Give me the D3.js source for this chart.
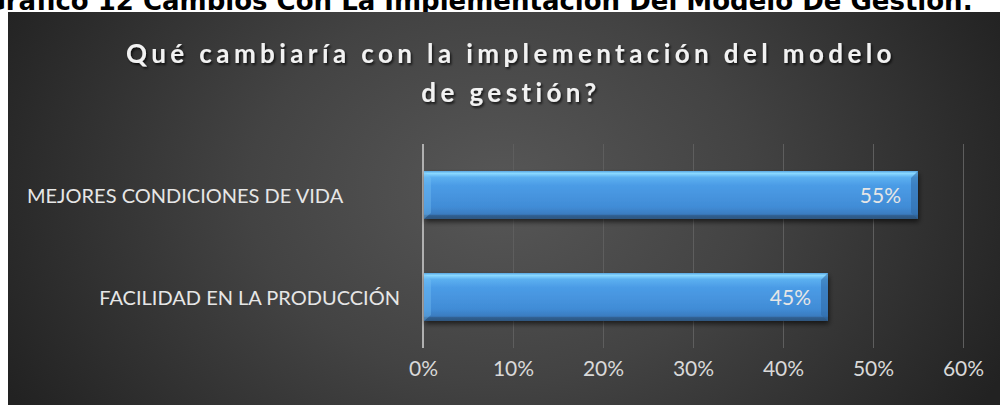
<!DOCTYPE html>
<html>
<head>
<meta charset="utf-8">
<script src="https://cdn.jsdelivr.net/npm/d3@7"></script>
<style>
  body { margin: 0; background: #fff; }
  svg { display: block; }
</style>
</head>
<body>
<svg width="1000" height="405"></svg>
<script>
var categories = ["MEJORES CONDICIONES DE VIDA", "FACILIDAD EN LA PRODUCCIÓN"];
var values = [0.55, 0.45];
var tickValues = [0, 0.1, 0.2, 0.3, 0.4, 0.5, 0.6];
var titleLines = ["Qué cambiaría con la implementación del modelo", "de gestión?"];
var caption = "Gráfico 12 Cambios Con La Implementación Del Modelo De Gestión:";

var svg = d3.select("svg"),
  width = +svg.attr("width"),
  height = +svg.attr("height");

var defs = svg.append("defs");

var bg = defs.append("radialGradient")
  .attr("id", "bg")
  .attr("gradientUnits", "userSpaceOnUse")
  .attr("cx", 500).attr("cy", 190).attr("r", 560)
  .attr("gradientTransform", "translate(500,190) scale(1,0.75) translate(-500,-190)");
bg.append("stop").attr("offset", "0%").attr("stop-color", "#575757");
bg.append("stop").attr("offset", "45%").attr("stop-color", "#434343");
bg.append("stop").attr("offset", "100%").attr("stop-color", "#222222");

var barGrad = defs.append("linearGradient")
  .attr("id", "bar")
  .attr("x1", 0).attr("y1", 0).attr("x2", 0).attr("y2", 1);
[["0%", "#5aa9e6"], ["5%", "#8ad8ff"], ["13%", "#5cb0f0"], ["30%", "#4b9ce6"],
 ["75%", "#418cd6"], ["90%", "#3a7cc0"], ["93%", "#305f90"], ["100%", "#2d5680"]]
  .forEach(function (s) {
    barGrad.append("stop").attr("offset", s[0]).attr("stop-color", s[1]);
  });

var shadow = defs.append("filter").attr("id", "shadow")
  .attr("x", "-5%").attr("y", "-20%").attr("width", "110%").attr("height", "160%");
shadow.append("feDropShadow")
  .attr("dx", 1).attr("dy", 3).attr("stdDeviation", 2.5)
  .attr("flood-color", "#000").attr("flood-opacity", 0.6);

var titleShadow = defs.append("filter").attr("id", "tshadow");
titleShadow.append("feDropShadow")
  .attr("dx", 1.5).attr("dy", 2).attr("stdDeviation", 1.2)
  .attr("flood-color", "#000").attr("flood-opacity", 0.7);

// caption above the chart (cut by the page edge, as in the source)
svg.append("text")
  .attr("x", 973)
  .attr("y", 10)
  .attr("text-anchor", "end")
  .attr("font-family", "DejaVu Sans")
  .attr("font-weight", "bold")
  .attr("font-size", 26)
  .attr("fill", "#000")
  .text(caption);

// chart area
svg.append("rect")
  .attr("x", 8).attr("y", 12)
  .attr("width", 1010).attr("height", 400)
  .attr("fill", "url(#bg)");

var title = svg.append("text")
  .attr("text-anchor", "middle")
  .attr("font-family", "Lato, 'Open Sans', sans-serif")
  .attr("font-weight", "bold")
  .attr("font-size", 26)
  .attr("letter-spacing", 4.4)
  .attr("fill", "#f2f2f2")
  .attr("filter", "url(#tshadow)");

title.selectAll("tspan")
  .data(titleLines)
  .enter().append("tspan")
  .attr("x", 511)
  .attr("y", function (d, i) { return 63 + i * 39; })
  .text(function (d) { return d; });

var x = d3.scaleLinear()
  .domain([0, 0.6])
  .range([423, 963]);

var y = d3.scaleBand()
  .domain(categories)
  .range([144, 348])
  .paddingInner(0.53)
  .paddingOuter(0.265);

var xAxis = d3.axisBottom(x)
  .tickValues(tickValues)
  .tickFormat(d3.format(".0%"))
  .tickSize(-(y.range()[1] - y.range()[0]))
  .tickPadding(28);

var gx = svg.append("g")
  .attr("transform", "translate(0," + y.range()[1] + ")")
  .call(xAxis);

gx.select(".domain").remove();
gx.selectAll(".tick line")
  .attr("stroke", "#5e5e5e")
  .attr("stroke-width", 1);
gx.selectAll(".tick text")
  .attr("fill", "#d9d9d9")
  .attr("font-family", "Lato, 'Open Sans', sans-serif")
  .attr("font-size", 21)
  .attr("dy", 0);

// vertical category axis line
svg.append("line")
  .attr("x1", x(0)).attr("x2", x(0))
  .attr("y1", y.range()[0]).attr("y2", y.range()[1])
  .attr("stroke", "#b0b0b0")
  .attr("stroke-width", 2);

var bar = svg.selectAll(".bar")
  .data(categories)
  .enter().append("g")
  .attr("class", "bar");

bar.append("rect")
  .attr("x", x(0) + 1)
  .attr("y", function (d) { return y(d); })
  .attr("width", function (d, i) { return x(values[i]) - x(0) - 1; })
  .attr("height", y.bandwidth())
  .attr("fill", "url(#bar)")
  .attr("filter", "url(#shadow)");

// bevel at the bar end
bar.append("path")
  .attr("d", function (d, i) {
    var x1 = x(values[i]), y0 = y(d), h = y.bandwidth();
    return "M" + (x1 - 7) + "," + (y0 + 7) + "L" + x1 + "," + y0 +
      "L" + x1 + "," + (y0 + h) + "L" + (x1 - 7) + "," + (y0 + h - 6) + "Z";
  })
  .attr("fill", "#2f6aa6")
  .attr("opacity", 0.55);

// bevel at the bar start
bar.append("path")
  .attr("d", function (d) {
    var x0 = x(0) + 1, y0 = y(d), h = y.bandwidth();
    return "M" + x0 + "," + y0 + "L" + (x0 + 7) + "," + (y0 + 7) +
      "L" + (x0 + 7) + "," + (y0 + h - 6) + "L" + x0 + "," + (y0 + h) + "Z";
  })
  .attr("fill", "#7cc6f7")
  .attr("opacity", 0.35);

bar.append("text")
  .attr("x", function (d, i) { return x(values[i]) - 17; })
  .attr("y", function (d) { return y(d) + y.bandwidth() / 2 + 8; })
  .attr("text-anchor", "end")
  .attr("font-family", "Lato, 'Open Sans', sans-serif")
  .attr("font-size", 21)
  .attr("fill", "#e6e6e6")
  .text(function (d, i) { return d3.format(".0%")(values[i]); });

// category labels
svg.selectAll(".cat")
  .data(categories)
  .enter().append("text")
  .attr("class", "cat")
  .attr("x", function (d, i) { return i === 0 ? 27 : x(0) - 23; })
  .attr("y", function (d) { return y(d) + y.bandwidth() / 2 + 8; })
  .attr("text-anchor", function (d, i) { return i === 0 ? "start" : "end"; })
  .attr("font-family", "Lato, 'Open Sans', sans-serif")
  .attr("font-size", 20)
  .attr("fill", "#e6e6e6")
  .text(function (d) { return d; });
</script>
</body>
</html>
